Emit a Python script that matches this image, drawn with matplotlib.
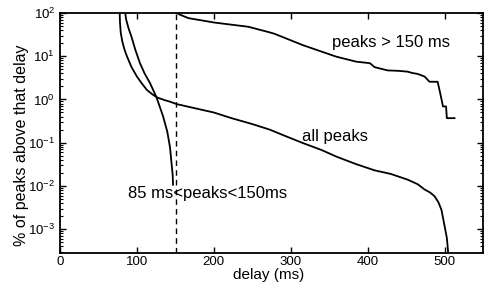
import matplotlib
matplotlib.use('Agg')
import matplotlib.pyplot as plt
from matplotlib.ticker import LogLocator, NullFormatter

plt.rcParams['font.family'] = ['Liberation Sans', 'DejaVu Sans']
plt.rcParams['mathtext.fontset'] = 'custom'
plt.rcParams['mathtext.rm'] = 'Liberation Sans'
plt.rcParams['mathtext.it'] = 'Liberation Sans'

# DATA
all_x = [77.5, 78, 79, 81, 84, 87, 93, 100, 106, 113, 120, 126, 135, 143, 152,
         175, 200, 223, 250, 273, 290, 316, 340, 359, 385, 409, 430, 452, 465,
         474, 481, 487, 492, 496, 500, 503, 505]
all_y = [110, 60, 35, 22, 14, 10, 5.6, 3.4, 2.4, 1.66, 1.32, 1.12, 0.98, 0.89, 0.78,
         0.63, 0.5, 0.37, 0.27, 0.2, 0.15, 0.098, 0.068, 0.048, 0.032, 0.023,
         0.019, 0.014, 0.011, 0.0083, 0.0071, 0.0058, 0.0042, 0.0028, 0.0012,
         0.00063, 0.00025]

mid_x = [84.4, 86, 89, 93, 98, 104, 110, 117, 125.5, 134, 139.5, 143, 145, 146.5, 147]
mid_y = [112, 71, 45, 28, 14, 6.9, 4.0, 2.4, 1.12, 0.41, 0.18, 0.079, 0.034, 0.018, 0.0107]

long_x = [151.5, 155, 167, 201, 245, 273, 279, 316, 359, 385, 403, 409, 420, 426,
          440, 452, 458, 465, 474, 480.5, 491, 494, 498, 502, 503, 513]
long_y = [100, 93, 76, 60, 48, 35.5, 33, 18, 9.8, 7.5, 6.9, 5.6, 5.0, 4.7,
          4.6, 4.4, 4.1, 3.9, 3.4, 2.57, 2.57, 1.5, 0.69, 0.69, 0.37, 0.37]

cut_ms = 151
x_ticks = [0, 100, 200, 300, 400, 500]

fig = plt.figure(figsize=(4.91, 2.85), dpi=100)
ax = fig.add_axes([0.1222, 0.1123, 0.8615, 0.8421])

ax.plot(all_x, all_y, color='black', lw=1.3)
ax.plot(mid_x, mid_y, color='black', lw=1.3)
ax.plot(long_x, long_y, color='black', lw=1.3)
ax.axvline(cut_ms, color='black', lw=1.0, ls=(0, (4, 3)))

ax.set_yscale('log')
ax.set_xlim(0, 550)
ax.set_ylim(10 ** -3.55, 100)
ax.set_xticks(x_ticks)
ax.yaxis.set_major_locator(LogLocator(base=10, numticks=10))
ax.yaxis.set_minor_locator(LogLocator(base=10, subs=range(2, 10), numticks=20))
ax.yaxis.set_minor_formatter(NullFormatter())

ax.tick_params(which='both', direction='in', top=True, right=True, labelsize=9.5)
ax.tick_params(which='major', length=4, width=1)
ax.tick_params(which='minor', length=2, width=0.8)
ax.tick_params(axis='x', pad=2.5)
for s in ax.spines.values():
    s.set_linewidth(1.3)

ax.text(354, 20.3, 'peaks > 150 ms', fontsize=12, va='center')
ax.text(315, 0.137, 'all peaks', fontsize=12, va='center')
ax.text(88, 0.0068, '85 ms<peaks<150ms', fontsize=12, va='center')

ax.set_xlabel('delay (ms)', fontsize=11)
ax.set_ylabel('% of peaks above that delay', fontsize=11.5)
ax.xaxis.set_label_coords(0.494, -0.064)
ax.xaxis.label.set_va('top')
ax.yaxis.set_label_coords(-0.09, 0.45)
ax.yaxis.label.set_va('center')

fig.savefig('out.png', dpi=100)
